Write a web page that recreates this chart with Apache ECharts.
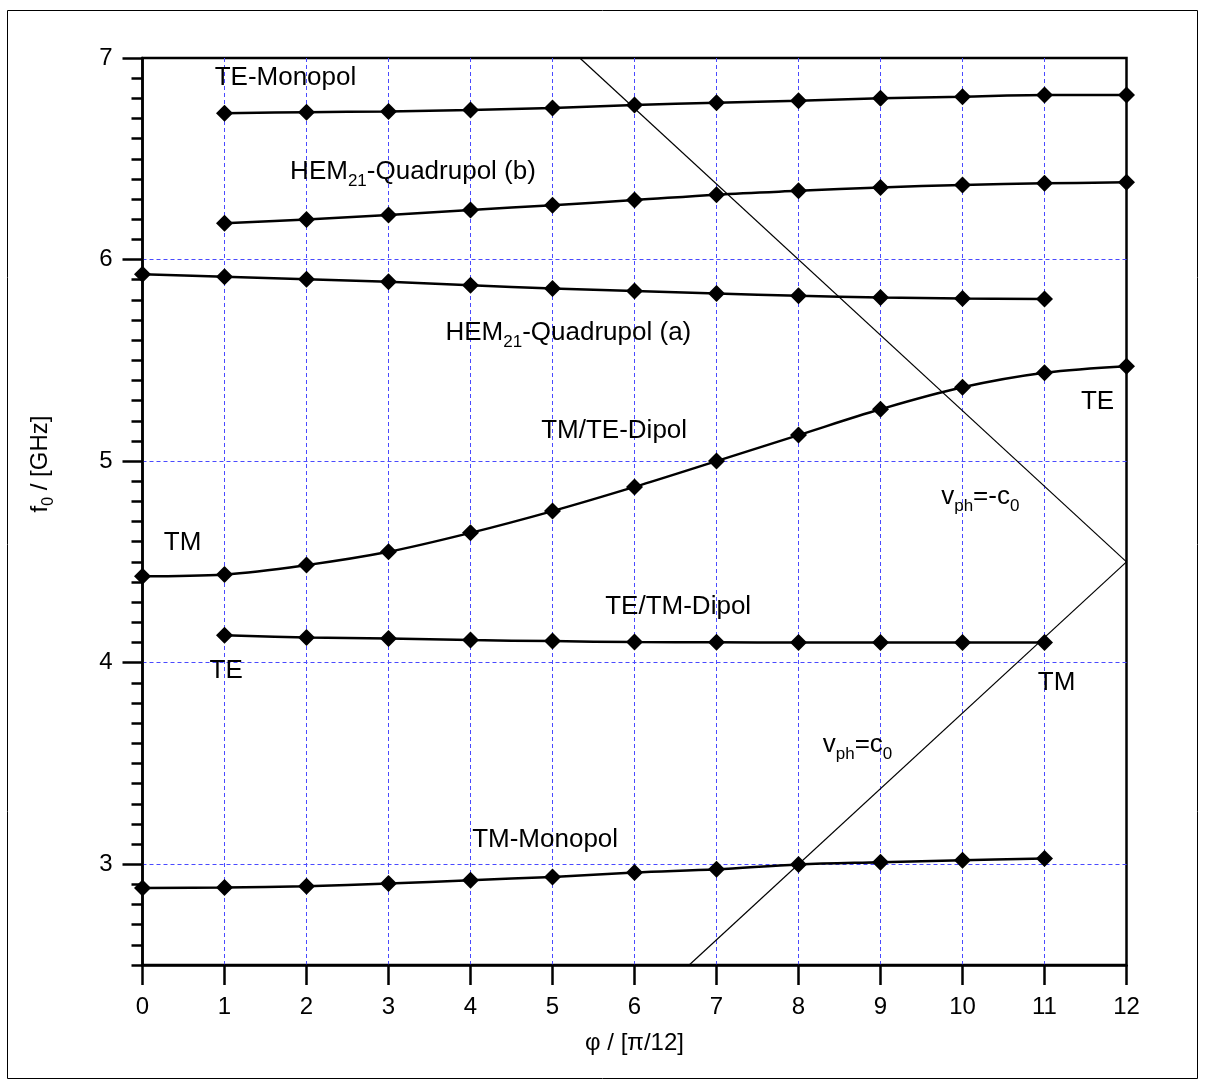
<!DOCTYPE html>
<html>
<head>
<meta charset="utf-8">
<script src="https://cdn.jsdelivr.net/npm/echarts@6/dist/echarts.min.js"></script>
<style>
  html, body { margin: 0; padding: 0; background: #fff; }
  #chart { width: 1205px; height: 1088px; }
</style>
</head>
<body>
<div id="chart"></div>
<script>
// ---- data ----
var phi = [0, 1, 2, 3, 4, 5, 6, 7, 8, 9, 10, 11, 12];
var teMonopol   = [null, 6.726, 6.731, 6.735, 6.742, 6.752, 6.767, 6.778, 6.788, 6.800, 6.808, 6.816, 6.816];
var hemQuadB    = [null, 6.180, 6.199, 6.221, 6.246, 6.270, 6.295, 6.322, 6.341, 6.358, 6.370, 6.378, 6.383];
var hemQuadA    = [5.927, 5.915, 5.902, 5.890, 5.872, 5.856, 5.844, 5.832, 5.820, 5.812, 5.807, 5.804, null];
var tmTeDipol   = [4.429, 4.438, 4.484, 4.550, 4.644, 4.752, 4.872, 5.000, 5.129, 5.257, 5.366, 5.438, 5.471];
var teTmDipol   = [null, 4.136, 4.125, 4.120, 4.112, 4.107, 4.102, 4.101, 4.100, 4.100, 4.100, 4.100, null];
var tmMonopol   = [2.882, 2.884, 2.891, 2.904, 2.921, 2.937, 2.959, 2.975, 2.999, 3.010, 3.020, 3.028, null];
var lightLineUp   = [[6.667, 2.5], [12, 4.5]];
var lightLineDown = [[12, 4.5], [5.333, 7]];
var yTickLabels = [3, 4, 5, 6, 7];
var yGridValues = [3, 4, 5, 6];
var xGridValues = [1, 2, 3, 4, 5, 6, 7, 8, 9, 10, 11];
var annotations = [
  { text: 'TE-Monopol', at: [0.88, 6.90] },
  { text: 'HEM{sub|21}-Quadrupol (b)', at: [1.80, 6.434] },
  { text: 'HEM{sub|21}-Quadrupol (a)', at: [3.695, 5.635] },
  { text: 'TM/TE-Dipol', at: [4.862, 5.149] },
  { text: 'TM', at: [0.26, 4.594] },
  { text: 'TE', at: [0.817, 3.96] },
  { text: 'TE/TM-Dipol', at: [5.643, 4.275] },
  { text: 'TE', at: [11.445, 5.296] },
  { text: 'TM', at: [10.918, 3.898] },
  { text: 'v{sub|ph}=-c{sub|0}', at: [9.74, 4.821] },
  { text: 'v{sub|ph}=c{sub|0}', at: [8.296, 3.59] },
  { text: 'TM-Monopol', at: [4.02, 3.122] }
];

// ---- build ----
function pairs(arr) {
  var out = [];
  for (var i = 0; i < phi.length; i++) if (arr[i] != null) out.push([phi[i], arr[i]]);
  return out;
}
var FONT = "'Liberation Sans', Arial, sans-serif";
var FS = 24;
var FS_ANN = 26;
var richSub = { sub: { fontSize: 16, fontFamily: FONT, color: '#000', padding: [18, 0, 0, 0] } };
var richSubAnn = { sub: { fontSize: 17, fontFamily: FONT, color: '#000', padding: [19, 0, 0, 0] } };
var gridBlue = '#4a4aff';
var clear = 'rgba(0,0,0,0)';

function curve(arr) {
  return {
    type: 'line', data: pairs(arr), smooth: 0.35,
    symbol: 'diamond', symbolSize: 17,
    itemStyle: { color: '#000', opacity: 1 },
    lineStyle: { color: '#000', width: 2.5 },
    z: 5, animation: false
  };
}
function thin(arr) {
  return {
    type: 'line', data: arr, symbol: 'none',
    lineStyle: { color: '#000', width: 1.2 }, z: 4, animation: false
  };
}

var yTicksHalf = [];
for (var t = 0; t <= 9; t++) yTicksHalf.push(2.5 + t * 0.5);
var yGridColors = yTicksHalf.map(function (v) { return yGridValues.indexOf(v) >= 0 ? gridBlue : clear; });
var xGridColors = phi.map(function (v) { return xGridValues.indexOf(v) >= 0 ? gridBlue : clear; });

var chart = echarts.init(document.getElementById('chart'), null, { renderer: 'canvas' });
var option = {
  backgroundColor: '#fff',
  animation: false,
  textStyle: { fontFamily: FONT },
  grid: { left: 142.5, right: 78.5, top: 58, bottom: 123, show: true, borderColor: '#000', borderWidth: 2.5, backgroundColor: 'transparent' },
  xAxis: [{
    type: 'value', min: 0, max: 12, interval: 1,
    axisLine: { show: true, onZero: false, lineStyle: { color: '#000', width: 2.5 } },
    axisTick: { show: true, inside: false, length: 20, lineStyle: { color: '#000', width: 2.5 } },
    axisLabel: { color: '#000', fontSize: FS, fontFamily: FONT, margin: 30 },
    splitLine: { show: true, lineStyle: { color: xGridColors, width: 1, type: [4, 3] } },
    name: 'φ / [π/12]', nameLocation: 'middle', nameGap: 66,
    nameTextStyle: { color: '#000', fontSize: FS, fontFamily: FONT }
  }],
  yAxis: [{
    type: 'value', min: 2.5, max: 7, interval: 0.5,
    axisLine: { show: true, onZero: false, lineStyle: { color: '#000', width: 2.5 } },
    axisTick: { show: true, inside: false, length: 20, customValues: yTickLabels, lineStyle: { color: '#000', width: 2.5 } },
    axisLabel: { color: '#000', fontSize: FS, fontFamily: FONT, margin: 30,
      formatter: function (v) { return yTickLabels.indexOf(v) >= 0 ? String(v) : ''; } },
    splitLine: { show: false }
  }, {
    type: 'value', min: 2.5, max: 7, interval: 0.1, position: 'left',
    axisLine: { show: false },
    axisTick: { show: true, inside: false, length: 11, lineStyle: { color: '#000', width: 2.5 } },
    axisLabel: { show: false },
    splitLine: { show: false }
  }, {
    type: 'value', min: 2.5, max: 7, interval: 0.5, position: 'left',
    axisLine: { show: false }, axisTick: { show: false }, axisLabel: { show: false },
    splitLine: { show: true, lineStyle: { color: yGridColors, width: 1, type: [4, 3] } }
  }],
  series: [
    curve(teMonopol), curve(hemQuadB), curve(hemQuadA),
    curve(tmTeDipol), curve(teTmDipol), curve(tmMonopol),
    thin(lightLineUp), thin(lightLineDown),
    {
      type: 'scatter', symbolSize: 0, z: 6, animation: false,
      itemStyle: { opacity: 1, color: '#000' },
      data: annotations.map(function (a) { return { value: a.at, name: a.text }; }),
      label: {
        show: true, position: 'right', distance: 0, opacity: 1,
        formatter: function (p) { return p.name; },
        color: '#000', fontSize: FS_ANN, fontFamily: FONT, rich: richSubAnn
      },
      silent: true
    }
  ],
  graphic: [{
    type: 'rect', shape: { x: 7.5, y: 10.5, width: 1190, height: 1068 },
    style: { fill: 'none', stroke: '#000', lineWidth: 1 }, z: 100
  }, {
    type: 'text', x: 40, y: 464, rotation: Math.PI / 2, z: 100,
    style: {
      text: 'f{sub|0} / [GHz]', rich: richSub, fill: '#000',
      font: FS + 'px ' + FONT, align: 'center', verticalAlign: 'middle'
    }
  }]
};
chart.setOption(option);
</script>
</body>
</html>
